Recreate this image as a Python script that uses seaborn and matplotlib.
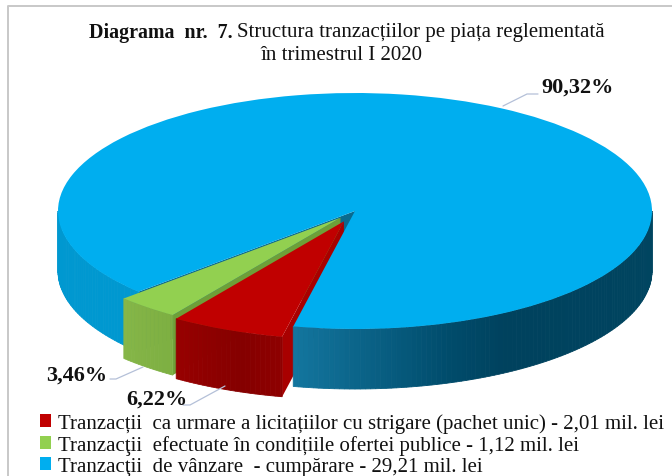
#!/usr/bin/env python3
# Structura tranzactiilor - 3D look pie with seaborn theme + matplotlib pie
import numpy as np
import matplotlib
matplotlib.use("Agg")
import matplotlib.pyplot as plt
from matplotlib.lines import Line2D
import seaborn as sns

# data
categories = ["Tranzacții  ca urmare a licitațiilor cu strigare (pachet unic)",
              "Tranzacţii  efectuate în condițiile ofertei publice",
              "Tranzacţii  de vânzare  - cumpărare"]
values = [2.01, 1.12, 29.21]  # mil. lei
shares = [6.22, 3.46, 90.32]  # percent labels
explode = [0.095, 0.075, 0]

sns.set_theme(style="white")
plt.rcParams['font.family'] = ['Liberation Serif', 'DejaVu Serif']

colors = sns.color_palette(["#C00000", "#92D050", "#00AEEF"])

W, H = 672, 477
fig = plt.figure(figsize=(W / 100, H / 100), dpi=100)
ax = fig.add_axes([0, 0, 1, 1])


def px(x, y):  # picture pixels to figure fraction
    return x / W, 1 - y / H


# top faces
wedges, _ = ax.pie(values, colors=colors, explode=explode, startangle=258, counterclock=False,
                   wedgeprops={"linewidth": 0, "edgecolor": "none"})
ax.set_aspect("auto")
cx, cy, rx, ry = 355, 212, 297, 118  # pie centre and radii in pixels
ax.set_xlim(-cx / rx, (W - cx) / rx)
ax.set_ylim((cy - H) / ry, cy / ry)
depth = 60 / ry

red, green, blue = wedges
for w in wedges:
    w.set_zorder(5)
green.set_zorder(7)
red.set_zorder(9)


def rim(wedge, a0, a1, angles, stops, z):
    # side of the pie between two angles, shaded by angle
    ccx, ccy = wedge.center
    grid = np.arange(a0, a1, 1.0)
    grid = np.append(grid, a1)
    rgb = np.array([matplotlib.colors.to_rgb(c) for c in stops])
    for a, b in zip(grid[:-1], grid[1:]):
        t = np.radians([a, b, b, a])
        xs = ccx + np.cos(t)
        ys = ccy + np.sin(t) - np.array([0, 0, depth, depth])
        col = [np.interp((a + b) / 2, angles, rgb[:, i]) for i in range(3)]
        ax.fill(xs, ys, color=col, lw=0.6, zorder=z)


def cut(wedge, angle, color, z):
    # flat face from the centre to the rim
    ccx, ccy = wedge.center
    c, s = np.cos(np.radians(angle)), np.sin(np.radians(angle))
    ax.fill([ccx, ccx + c, ccx + c, ccx], [ccy, ccy + s, ccy + s - depth, ccy - depth],
            color=color, lw=0, zorder=z)


edge_low = red.theta2  # 258
edge_mid = red.theta1
edge_left = green.theta1

cut(blue, edge_left, "#0A6A8F", 1)
cut(green, edge_mid, "#6E9F38", 1.5)
cut(red, edge_low, "#A80000", 2)
rim(blue, edge_low, 360, [258, 288, 300, 360], ["#13769F", "#004C6C", "#00425E", "#004560"], 3)
rim(blue, 180, edge_left, [180, 224], ["#0098D0", "#0098D0"], 3)
rim(green, edge_left, edge_mid, [edge_left, edge_mid], ["#86B648", "#7DAF42"], 6)
rim(red, edge_mid, edge_low, [edge_mid, 250, edge_low], ["#980000", "#850000", "#8E0000"], 8)

# frame remains from the scanned page
fig.add_artist(Line2D([px(672, 7)[0], px(8, 7)[0], px(8, 477)[0]],
                      [px(672, 7)[1], px(8, 7)[1], px(8, 477)[1]], color="#C8C8C8", lw=1.4))

# title
x, y = px(89, 33)
fig.text(x, y, "Diagrama  nr.  7.", fontsize=14.4, fontweight="bold", va="center", color="#111111")
x, y = px(237, 33)
fig.text(x, y, "Structura tranzacțiilor pe piața reglementată", fontsize=15, va="center", color="#111111")
x, y = px(260, 56)
fig.text(x, y, "în trimestrul I 2020", fontsize=15, va="center", color="#111111")


def pct(v):
    return f"{v:.2f}%".replace(".", ",")


# percent labels and leaders
label_pos = [(126, 400), (46, 376), (541, 88)]
leaders = [[(183, 406), (190, 406), (225, 387)],
           [(110, 380), (116, 380), (143, 368)],
           [(503, 107), (527, 95), (538, 95)]]
for s, (lx, ly), pts in zip(shares, label_pos, leaders):
    x, y = px(lx, ly)
    fig.text(x, y, pct(s), fontsize=16, fontweight="bold", va="center", color="#111111")
    fig.add_artist(Line2D(*zip(*[px(*p) for p in pts]), color="#B4C0D8", lw=0.9))

# legend
legend_labels = [f"{c} - {str(v).replace('.', ',')} mil. lei" for c, v in zip(categories, values)]
leg = ax.legend(wedges, legend_labels, loc="upper left", bbox_to_anchor=px(40, 414), frameon=False,
                fontsize=15, handlelength=0.55, handleheight=0.55, handletextpad=0.3,
                labelspacing=0.1, borderaxespad=0, borderpad=0)
for t in leg.get_texts():
    t.set_color("#111111")

fig.savefig("out.png", dpi=100)
